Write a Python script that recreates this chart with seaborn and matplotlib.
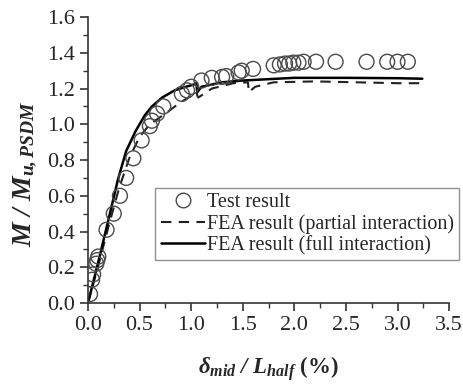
import matplotlib
matplotlib.use("Agg")
import matplotlib.pyplot as plt
import seaborn as sns
import pandas as pd
from matplotlib.ticker import MultipleLocator
from matplotlib.lines import Line2D

# Test data
test_x = [0.02, 0.04, 0.05, 0.08, 0.09, 0.10, 0.18, 0.25, 0.31, 0.37, 0.44, 0.52,
          0.60, 0.62, 0.67, 0.73, 0.91, 0.96, 1.00, 1.10, 1.20, 1.30, 1.34, 1.46,
          1.49, 1.60, 1.80, 1.86, 1.91, 1.95, 1.99, 2.04, 2.09, 2.21, 2.40, 2.70,
          2.90, 3.00, 3.10]
test_y = [0.05, 0.13, 0.16, 0.22, 0.24, 0.26, 0.41, 0.50, 0.60, 0.70, 0.81, 0.91,
          0.99, 1.02, 1.06, 1.10, 1.17, 1.19, 1.21, 1.245, 1.26, 1.265, 1.27, 1.29,
          1.30, 1.31, 1.33, 1.335, 1.34, 1.34, 1.345, 1.345, 1.35, 1.35, 1.35, 1.35,
          1.35, 1.35, 1.35]

# FEA partial interaction
partial_x = [0.0, 0.1, 0.2, 0.3, 0.4, 0.5, 0.6, 0.75, 0.89, 1.0, 1.05, 1.06, 1.07,
             1.2, 1.41, 1.55, 1.56, 1.58, 1.62, 1.8, 2.2, 2.6, 3.0, 3.24]
partial_y = [0.0, 0.21, 0.43, 0.64, 0.81, 0.93, 1.00, 1.06, 1.12, 1.16, 1.18, 1.16, 1.15,
             1.20, 1.23, 1.235, 1.18, 1.19, 1.21, 1.235, 1.24, 1.235, 1.23, 1.23]

# FEA full interaction
full_x = [0.0, 0.1, 0.2, 0.29, 0.37, 0.46, 0.55, 0.62, 0.72, 0.84, 0.95, 1.04, 1.05,
          1.06, 1.1, 1.3, 1.5, 2.0, 2.5, 3.0, 3.24]
full_y = [0.0, 0.23, 0.47, 0.69, 0.85, 0.96, 1.05, 1.10, 1.15, 1.19, 1.21, 1.225, 1.23,
          1.18, 1.21, 1.235, 1.245, 1.26, 1.26, 1.258, 1.255]

sns.set_style("ticks")
plt.rcParams['font.family'] = ['Liberation Serif', 'DejaVu Serif']
plt.rcParams['mathtext.fontset'] = 'custom'
plt.rcParams['mathtext.rm'] = 'Liberation Serif'
plt.rcParams['mathtext.it'] = 'Liberation Serif:italic'
plt.rcParams['mathtext.bf'] = 'Liberation Serif:italic:bold'

fig = plt.figure(figsize=(4.63, 3.88), dpi=100)
ax = fig.add_axes([0.190, 0.219, 0.780, 0.737])

df_test = pd.DataFrame({"x": test_x, "y": test_y})
df_p = pd.DataFrame({"x": partial_x, "y": partial_y})
df_f = pd.DataFrame({"x": full_x, "y": full_y})

sns.lineplot(data=df_p, x="x", y="y", ax=ax, color="#222222", lw=1.5,
             linestyle=(0, (5, 3.5)), sort=False, estimator=None)
sns.lineplot(data=df_f, x="x", y="y", ax=ax, color="black", lw=1.8,
             sort=False, estimator=None)
sns.scatterplot(data=df_test, x="x", y="y", ax=ax, marker="o", s=115,
                facecolor="none", edgecolor="#4a4a4a", linewidth=1.0, zorder=3)

ax.set_xlim(0, 3.5)
ax.set_ylim(0, 1.6)
ax.xaxis.set_major_locator(MultipleLocator(0.5))
ax.xaxis.set_minor_locator(MultipleLocator(0.25))
ax.yaxis.set_major_locator(MultipleLocator(0.2))
ax.yaxis.set_minor_locator(MultipleLocator(0.1))
ax.set_xticklabels([f"{v:.1f}" for v in ax.get_xticks()])
ax.set_yticklabels([f"{v:.1f}" for v in ax.get_yticks()])
ax.tick_params(which="major", direction="out", length=6, width=1.2, labelsize=16,
               color="#333333", pad=3)
ax.tick_params(which="minor", direction="out", length=3.5, width=1.0, color="#333333")
for s in ["left", "bottom"]:
    ax.spines[s].set_linewidth(1.2)
    ax.spines[s].set_color("#333333")
sns.despine(ax=ax)

ax.set_xlabel(r"$\mathbf{\delta_{mid}\ /\ L_{half}}$" + " (%)", fontsize=16.5, fontweight="bold",
              labelpad=14)
ax.set_ylabel(r"$\mathbf{M\ /\ M_{u,PSDM}}$", fontsize=20)
ax.yaxis.set_label_coords(-0.135, 0.45)

handles = [
    Line2D([], [], marker="o", linestyle="none", markerfacecolor="none",
           markeredgecolor="#4a4a4a", markersize=10.5, markeredgewidth=1.0),
    Line2D([], [], color="#222222", lw=1.5, linestyle=(0, (5, 3.5))),
    Line2D([], [], color="black", lw=1.8),
]
labels = ["Test result", "FEA result (partial interaction)", "FEA result (full interaction)"]
leg = ax.legend(handles, labels, loc="lower right", bbox_to_anchor=(1.027, 0.15),
                fontsize=14.5, frameon=True, fancybox=False, edgecolor="#777777",
                handlelength=2.2, handletextpad=0.1, borderpad=0.25, labelspacing=0.1,
                borderaxespad=0.0)
leg.get_frame().set_linewidth(1.0)

fig.savefig("out.png", dpi=100)
